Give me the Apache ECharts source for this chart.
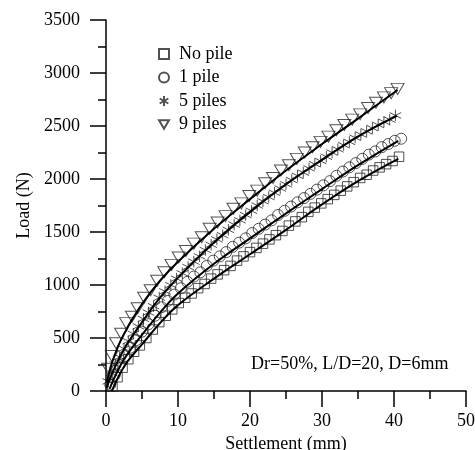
<!DOCTYPE html>
<html>
<head>
<meta charset="utf-8">
<script src="https://cdn.jsdelivr.net/npm/echarts@6/dist/echarts.min.js"></script>
<style>html,body{margin:0;padding:0;background:#fff}#c{width:475px;height:450px}</style>
</head>
<body>
<div id="c"></div>
<script>
// ---- data ----
var seriesNames = ['No pile', '1 pile', '5 piles', '9 piles'];

// measured points
var noPileS = [0.9,1.6,2.3,3.1,3.9,4.7,5.6,6.5,7.4,8.3,9.2,10.1,11.0,11.9,12.8,13.7,14.6,15.5,16.4,17.3,18.2,19.1,20.0,20.9,21.8,22.7,23.6,24.5,25.4,26.3,27.2,28.1,29.0,29.9,30.8,31.7,32.6,33.5,34.4,35.3,36.2,37.1,38.0,38.9,39.8,40.7];
var noPileL = [40,130,220,300,370,430,500,580,650,710,770,830,880,920,970,1010,1060,1100,1140,1180,1230,1270,1310,1350,1390,1430,1470,1510,1560,1600,1640,1690,1730,1770,1810,1850,1890,1930,1970,2010,2040,2080,2110,2140,2170,2210];

var onePileS = [0.6,1.2,1.9,2.6,3.4,4.2,5.0,5.9,6.8,7.7,8.6,9.5,10.4,11.3,12.2,13.1,14.0,14.9,15.8,16.7,17.6,18.5,19.4,20.3,21.2,22.1,23.0,23.9,24.8,25.7,26.6,27.5,28.4,29.3,30.2,31.1,32.0,32.9,33.8,34.7,35.6,36.5,37.4,38.3,39.2,40.1,41.0];
var onePileL = [60,150,250,330,410,480,560,630,710,790,850,910,970,1030,1080,1120,1180,1230,1270,1310,1360,1400,1440,1490,1530,1570,1610,1660,1700,1740,1780,1820,1860,1900,1940,1980,2030,2070,2110,2150,2190,2230,2260,2300,2330,2360,2380];

var fivePileS = [0.3,0.8,1.3,1.9,2.5,3.1,3.8,4.5,5.2,5.9,6.6,7.4,8.2,9.0,9.8,10.6,11.4,12.2,13.0,13.8,14.6,15.4,16.2,17.0,17.8,18.6,19.4,20.2,21.0,21.8,22.6,23.4,24.2,25.0,25.8,26.6,27.4,28.2,29.0,29.8,30.6,31.4,32.2,33.0,33.8,34.6,35.4,36.2,37.0,37.8,38.6,39.4,40.2];
var fivePileL = [90,170,250,320,400,470,540,610,680,740,800,880,940,1000,1060,1110,1170,1220,1270,1330,1380,1430,1470,1520,1570,1610,1660,1700,1750,1790,1830,1870,1910,1950,1990,2030,2060,2100,2140,2170,2210,2250,2280,2320,2350,2390,2420,2450,2480,2510,2540,2560,2600];

var ninePileS = [0.3,0.8,1.4,2.1,2.8,3.6,4.4,5.3,6.2,7.1,8.1,9.1,10.1,11.1,12.2,13.3,14.4,15.5,16.6,17.7,18.8,19.9,21.0,22.1,23.2,24.3,25.4,26.5,27.6,28.7,29.8,30.9,32.0,33.1,34.2,35.3,36.4,37.5,38.6,39.6,40.5];
var ninePileL = [210,330,450,540,640,700,780,880,950,1040,1120,1190,1260,1320,1390,1450,1530,1590,1650,1720,1770,1840,1890,1960,2010,2080,2130,2190,2250,2300,2350,2400,2460,2510,2560,2610,2670,2720,2770,2810,2850];

// fitted curves
var noPileFitS = [0.8,1,2,3,5,7.5,10,15,20,25,30,35,40.6];
var noPileFitL = [0,30,170,280,440,640,810,1060,1290,1520,1760,1980,2190];
var onePileFitS = [0.5,1,2,3,5,7.5,10,15,20,25,30,35,40.6];
var onePileFitL = [20,100,240,350,530,740,920,1200,1440,1675,1905,2130,2360];
var fivePileFitS = [0.1,0.5,1,2,3,5,7.5,10,15,20,25,30,35,40.4];
var fivePileFitL = [30,110,190,330,450,650,880,1070,1400,1690,1950,2180,2400,2595];
var ninePileFitS = [0.1,0.5,1,2,3,5,7.5,10,15,20,25,30,35,40.5];
var ninePileFitL = [80,190,300,470,600,820,1040,1220,1530,1810,2080,2330,2570,2840];

var xTicks = {min: 0, max: 50, interval: 10};
var yTicks = {min: 0, max: 3500, interval: 500};
var annotation = 'Dr=50%, L/D=20, D=6mm';

// ---- build ----
function pairs(s, l) { return s.map(function (v, i) { return [v, l[i]]; }); }
var FONT = '"Liberation Serif", "Times New Roman", serif';
var mk = '#262626';
var triDown = 'path://M0,0 L10,0 L5,8.66 Z';
var aster = 'path://M5,0 L5,10 M0.67,2.5 L9.33,7.5 M0.67,7.5 L9.33,2.5';

var markerSeries = [
  {name: seriesNames[0], data: pairs(noPileS, noPileL), symbol: 'rect', symbolSize: 9.5},
  {name: seriesNames[1], data: pairs(onePileS, onePileL), symbol: 'circle', symbolSize: 11},
  {name: seriesNames[2], data: pairs(fivePileS, fivePileL), symbol: aster, symbolSize: 11.5},
  {name: seriesNames[3], data: pairs(ninePileS, ninePileL), symbol: triDown, symbolSize: [13, 11]}
].map(function (s) {
  return Object.assign({
    type: 'scatter', z: 2,
    itemStyle: {color: 'rgba(255,255,255,0)', borderColor: mk, borderWidth: 1},
    emphasis: {disabled: true}
  }, s);
});

var fitSeries = [
  pairs(noPileFitS, noPileFitL), pairs(onePileFitS, onePileFitL),
  pairs(fivePileFitS, fivePileFitL), pairs(ninePileFitS, ninePileFitL)
].map(function (d) {
  return {type: 'line', data: d, smooth: 0.4, symbol: 'none', z: 3,
    lineStyle: {color: '#000', width: 2}, emphasis: {disabled: true}};
});

function plain(v) { return String(v); }

var chart = echarts.init(document.getElementById('c'), null, {renderer: 'canvas'});
chart.setOption({
  animation: false,
  backgroundColor: '#fff',
  grid: {left: 106, right: 9, top: 20, bottom: 59, containLabel: false, outerBoundsMode: 'none'},
  legend: {
    orient: 'vertical', left: 153, top: 40,
    data: seriesNames,
    itemWidth: 10, itemHeight: 10, itemGap: 5.5,
    textStyle: {fontFamily: FONT, fontSize: 18, color: '#000', lineHeight: 18, padding: [0, 0, 0, 5]},
    selectedMode: false
  },
  xAxis: {
    type: 'value', min: xTicks.min, max: xTicks.max, interval: xTicks.interval,
    name: 'Settlement (mm)', nameLocation: 'middle', nameGap: 38,
    nameTextStyle: {fontFamily: FONT, fontSize: 18, color: '#000'},
    axisLine: {lineStyle: {color: '#000', width: 1.5}},
    axisTick: {length: 16, lineStyle: {color: '#000', width: 1.5}},
    minorTick: {show: true, splitNumber: 2, length: 8, lineStyle: {color: '#000', width: 1.5}},
    axisLabel: {fontFamily: FONT, fontSize: 18, color: '#000', margin: 21, formatter: plain},
    splitLine: {show: false}
  },
  yAxis: {
    type: 'value', min: yTicks.min, max: yTicks.max, interval: yTicks.interval,
    name: 'Load (N)', nameLocation: 'middle', nameGap: 63,
    nameTextStyle: {fontFamily: FONT, fontSize: 18, color: '#000'},
    axisLine: {show: true, lineStyle: {color: '#000', width: 1.5}},
    axisTick: {show: true, length: 16, lineStyle: {color: '#000', width: 1.5}},
    minorTick: {show: true, splitNumber: 2, length: 8, lineStyle: {color: '#000', width: 1.5}},
    axisLabel: {fontFamily: FONT, fontSize: 18, color: '#000', margin: 26, formatter: plain},
    splitLine: {show: false}
  },
  graphic: [{
    type: 'text', left: 251, top: 355, silent: true,
    style: {text: annotation, font: '18px ' + FONT, fill: '#000'}
  }],
  series: markerSeries.concat(fitSeries)
});
</script>
</body>
</html>
